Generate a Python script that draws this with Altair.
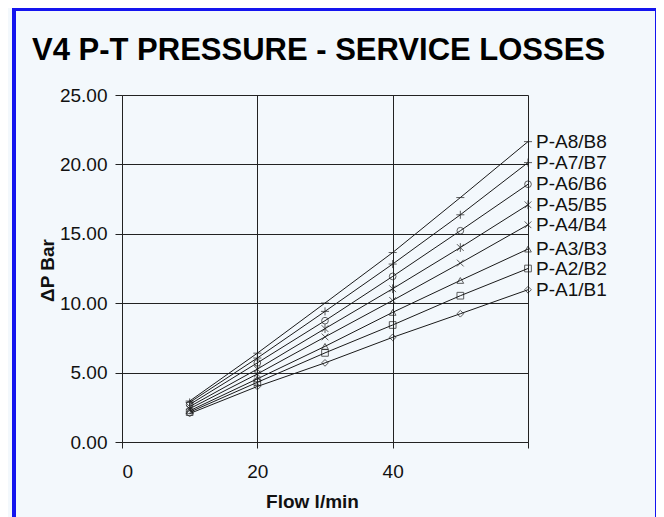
import altair as alt
import pandas as pd

flow = [10, 20, 30, 40, 50, 60]
series_names = ["P-A1/B1", "P-A2/B2", "P-A3/B3", "P-A4/B4",
                "P-A5/B5", "P-A6/B6", "P-A7/B7", "P-A8/B8"]
a1 = [2.05, 4.00, 5.70, 7.54, 9.24, 10.97]
a2 = [2.15, 4.30, 6.42, 8.43, 10.54, 12.50]
a3 = [2.25, 4.55, 6.89, 9.34, 11.64, 13.90]
a4 = [2.40, 4.90, 7.57, 10.20, 12.89, 15.65]
a5 = [2.55, 5.25, 8.17, 11.04, 14.01, 17.09]
a6 = [2.70, 5.70, 8.74, 11.93, 15.22, 18.57]
a7 = [2.85, 6.05, 9.41, 12.82, 16.37, 20.13]
a8 = [2.95, 6.40, 10.01, 13.65, 17.61, 21.64]
all_values = [a1, a2, a3, a4, a5, a6, a7, a8]

y_ticks = [0, 5, 10, 15, 20, 25]
x_ticks = [0, 20, 40, 60]

shapes = ["diamond", "square", "triangle-up",
          "M-1,-1L1,1M-1,1L1,-1",
          "M-1,-1L1,1M-1,1L1,-1M0,-1.3L0,1.3",
          "circle",
          "M-1.2,0L1.2,0M0,-1.2L0,1.2",
          "M-1.2,0L1.2,0"]

rows = []
for name, vals in zip(series_names, all_values):
    for f, v in zip(flow, vals):
        rows.append({"series": name, "flow": f, "dp": v})
df = pd.DataFrame(rows)
ends = pd.DataFrame({"series": series_names,
                     "flow": [flow[-1]] * len(series_names),
                     "dp": [v[-1] for v in all_values]})

ink = "#1a1a1a"
x_enc = alt.X("flow:Q",
              scale=alt.Scale(domain=[0, 60], nice=False),
              axis=alt.Axis(values=x_ticks, labelExpr="datum.value == 60 ? '' : datum.label",
                            title="Flow l/min", titleX=190, titleY=59,
                            titleBaseline="middle", titleAlign="center",
                            labelPadding=14, tickSize=6))
y_enc = alt.Y("dp:Q",
              scale=alt.Scale(domain=[0, 25], nice=False),
              axis=alt.Axis(values=y_ticks, format=".2f", title="ΔP Bar",
                            titleX=-75, titleY=175, titleAngle=270,
                            titleBaseline="middle", titleAlign="center",
                            labelPadding=8, tickSize=7))

frame = alt.Chart(df).mark_rect(
    fill="transparent", stroke="#1515ee", strokeWidth=2.5, clip=False
).encode(x=alt.value(-108), x2=alt.value(535), y=alt.value(-86), y2=alt.value(470))

lines = alt.Chart(df).mark_line(color=ink, strokeWidth=1).encode(
    x=x_enc, y=y_enc, detail="series:N")

points = alt.Chart(df).mark_point(filled=False, size=45, strokeWidth=1, color=ink).encode(
    x="flow:Q", y="dp:Q",
    shape=alt.Shape("series:N", scale=alt.Scale(domain=series_names, range=shapes), legend=None))

labels = alt.Chart(ends).mark_text(align="left", baseline="middle", dx=8,
                                   fontSize=19, font="Liberation Sans", color="#111").encode(
    x="flow:Q", y="dp:Q", text="series:N")

chart = alt.layer(frame, lines, points, labels).properties(
    width=406, height=347,
    autosize=alt.AutoSizeParams(type="none"),
    padding={"left": 114, "top": 87, "right": 128, "bottom": 75},
    background="#f3f8fc",
    title=alt.Title("V4 P-T PRESSURE - SERVICE LOSSES", anchor="start", frame="group",
                    dx=-90, offset=-83, baseline="alphabetic", fontSize=31, fontWeight="bold",
                    font="Liberation Sans", color="#000"),
).configure_view(strokeOpacity=0).configure_axis(
    grid=True, gridColor="#222", gridWidth=1, gridOpacity=1,
    domainColor="#222", tickColor="#222",
    labelFont="Liberation Sans", labelFontSize=19, labelColor="#111",
    titleFont="Liberation Sans", titleFontSize=19, titleFontWeight="bold", titleColor="#111",
)

chart.save("out.html", embed_options={"renderer": "svg", "actions": False})
